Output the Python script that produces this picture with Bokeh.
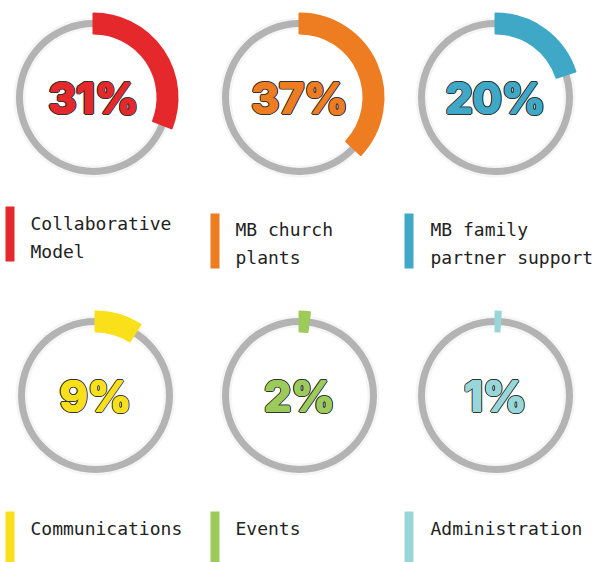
import math
from bokeh.plotting import figure
from bokeh.models import Range1d, ColumnDataSource
from bokeh.core.properties import value
from bokeh.embed import file_html
from bokeh.resources import INLINE

# ---- data ----
categories = ["Collaborative\nModel", "MB church\nplants", "MB family\npartner support",
              "Communications", "Events", "Administration"]
percent = [31, 37, 20, 9, 2, 1]
colors = ["#E4282B", "#EE7D22", "#40A8C7", "#F9E01B", "#9DCB5B", "#98D7D9"]

# ---- layout (screen pixels) ----
W, H = 597, 562
cx = [93, 299, 495, 95, 299, 495]
cy = [97, 97, 97, 395, 395, 395]
bar_left = [5, 210, 404, 5, 210, 404]
bar_top = [206, 213, 213, 511, 511, 511]
bar_bottom = [261, 268, 268, 562, 562, 562]
label_x = [30, 235, 430, 30, 235, 430]
label_top = [212, 218, 218, 517, 517, 517]

p = figure(width=W, height=H, x_range=Range1d(0, W), y_range=Range1d(H, 0),
           output_backend="svg", toolbar_location=None,
           x_axis_type=None, y_axis_type=None, min_border=0)
p.outline_line_color = None
p.grid.visible = False
p.background_fill_color = "white"

src = ColumnDataSource(dict(
    cx=cx, cy=cy, pct=percent, color=colors,
    start=[90 - v * 3.6 for v in percent], end=[90] * 6,
    txt=[f"{v}%" for v in percent],
    cat=categories, lx=label_x, ly=label_top,
    bl=bar_left, br=[b + 9 for b in bar_left], bt=bar_top, bb=bar_bottom,
))

# soft shadow + grey track
p.annulus(x="cx", y="cy", inner_radius=68, outer_radius=80, source=src,
          fill_color="#EEEEEE", line_color=None, fill_alpha=0.6)
p.annulus(x="cx", y="cy", inner_radius=70.5, outer_radius=77.5, source=src,
          fill_color="#B3B3B3", line_color=None)

# coloured arcs
p.annular_wedge(x="cx", y="cy", inner_radius=64, outer_radius=84,
                start_angle="start", end_angle="end", start_angle_units="deg",
                end_angle_units="deg", direction="anticlock", source=src,
                fill_color="color", line_color="color", line_width=2,
                line_join="round")

# percentages: dark outline layer, then heavy coloured fill layer
common = dict(x="cx", y="cy", text="txt", source=src, text_align="center",
              text_baseline="middle", text_font=value("Inter"),
              text_font_style="bold", text_font_size="43px")
for k in range(12):
    a = 2 * math.pi * k / 12
    p.text(x_offset=1.9 * math.cos(a), y_offset=1.9 * math.sin(a),
           text_color="#333333", **common)
for k in range(8):
    a = 2 * math.pi * k / 8
    p.text(x_offset=0.8 * math.cos(a), y_offset=0.8 * math.sin(a),
           text_color="color", **common)
p.text(text_color="color", **common)

# legend bars and labels
p.quad(left="bl", right="br", top="bt", bottom="bb", source=src,
       fill_color="color", line_color=None)
p.text(x="lx", y="ly", text="cat", source=src, text_align="left",
       text_baseline="top", text_font=value("DejaVu Sans Mono"),
       text_font_size="18px", text_color="#222222", text_line_height=1.35)

open("out.html", "w").write(file_html(p, INLINE))
